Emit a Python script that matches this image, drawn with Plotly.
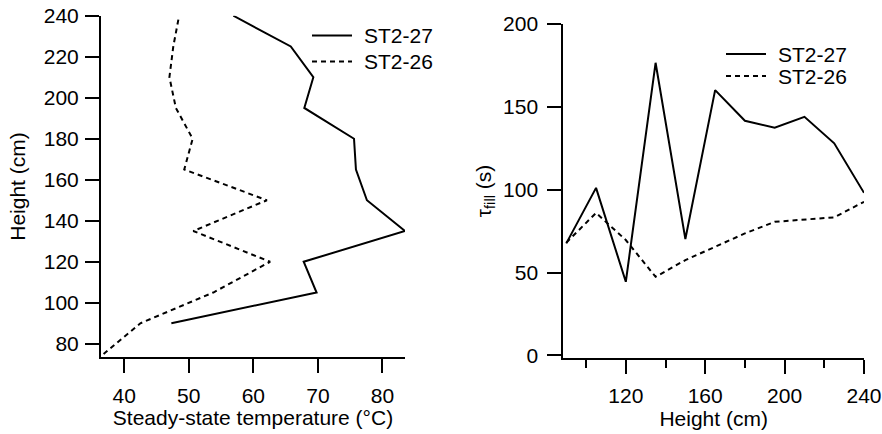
import plotly.graph_objects as go

# Steady-state temperature profile (height in cm, temperature in °C)
height_27 = [90, 105, 120, 135, 150, 165, 180, 195, 210, 225, 240]
temp_27 = [47.3, 69.8, 67.8, 83.5, 77.6, 75.9, 75.6, 67.9, 69.3, 65.8, 56.9]
height_26 = [75, 90, 105, 120, 135, 150, 165, 180, 195, 210, 225, 240]
temp_26 = [36.8, 42.5, 53.8, 62.6, 50.7, 62.1, 49.3, 50.6, 48.0, 47.0, 47.6, 48.5]

# Fill time constant vs height
tau_height = [90, 105, 120, 135, 150, 165, 180, 195, 210, 225, 240]
tau_27 = [67.6, 101.1, 44.4, 176.6, 70.2, 160.1, 141.6, 137.4, 144.0, 128.0, 98.1]
tau_26 = [68.0, 86.0, 69.6, 47.4, 57.5, 65.5, 73.6, 80.6, 82.0, 83.3, 92.7]

series_names = ["ST2-27", "ST2-26"]

W, H = 882, 434
FONT = "Liberation Sans, Arial, sans-serif"
FS = 21
solid = dict(color="black", width=2)
dashed = dict(color="black", width=2, dash="5px,4px")
styles = [solid, dashed]

fig = go.Figure()
fig.add_trace(go.Scatter(x=temp_27, y=height_27, mode="lines", line=solid,
                         name=series_names[0], xaxis="x", yaxis="y"))
fig.add_trace(go.Scatter(x=temp_26, y=height_26, mode="lines", line=dashed,
                         name=series_names[1], xaxis="x", yaxis="y"))
fig.add_trace(go.Scatter(x=tau_height, y=tau_27, mode="lines", line=solid,
                         name=series_names[0], xaxis="x2", yaxis="y2"))
fig.add_trace(go.Scatter(x=tau_height, y=tau_26, mode="lines", line=dashed,
                         name=series_names[1], xaxis="x2", yaxis="y2"))

axis_common = dict(
    showgrid=False, zeroline=False, showline=True, linecolor="black", linewidth=2,
    ticks="outside", ticklen=14, tickwidth=2, tickcolor="black",
    tickfont=dict(family=FONT, size=FS, color="black"),
    title_font=dict(family=FONT, size=FS, color="black"),
)

# Hand-placed legend boxes: (line x0, line x1, text x, [row y...]) in pixels
legend_specs = [
    (312, 352, 362, [35.5, 61.5]),
    (726, 766, 776, [54, 76]),
]
shapes, annotations = [], []
for x0, x1, tx, rows in legend_specs:
    for name, style, ry in zip(series_names, styles, rows):
        shapes.append(dict(type="line", xref="paper", yref="paper",
                           x0=x0 / W, x1=x1 / W, y0=1 - ry / H, y1=1 - ry / H,
                           line=style))
        annotations.append(dict(text=name, xref="paper", yref="paper",
                                x=tx / W, y=1 - ry / H, xanchor="left", yanchor="middle",
                                showarrow=False, font=dict(family=FONT, size=FS, color="black")))

fig.update_layout(
    width=W, height=H,
    margin=dict(l=0, r=0, t=0, b=0, autoexpand=False),
    paper_bgcolor="white", plot_bgcolor="white",
    font=dict(family=FONT, size=FS, color="black"),
    showlegend=False,
    xaxis=dict(axis_common, domain=[101 / W, 405 / W], range=[36.4, 83.5],
               tickvals=[40, 50, 60, 70, 80], ticklabelstandoff=4,
               title=dict(text="Steady-state temperature (°C)", standoff=3),
               anchor="y"),
    yaxis=dict(axis_common, domain=[1 - 357.3 / H, 1 - 15.7 / H], range=[73.4, 240],
               tickvals=[80, 100, 120, 140, 160, 180, 200, 220, 240], ticklabelstandoff=2,
               title=dict(text="Height (cm)", standoff=12),
               anchor="x"),
    xaxis2=dict(axis_common, domain=[563.3 / W, 864 / W], range=[88.5, 240],
                tickvals=[120, 160, 200, 240], ticklabelstandoff=4,
                minor=dict(tickvals=[100, 140, 180, 220], ticklen=8, tickwidth=2,
                           tickcolor="black", ticks="outside"),
                title=dict(text="Height (cm)", standoff=1),
                anchor="y2"),
    yaxis2=dict(axis_common, domain=[1 - 358 / H, 1 - 24 / H], range=[-1.6, 200],
                tickvals=[0, 50, 100, 150, 200], ticklabelstandoff=5,
                title=dict(text="τ<sub>fill</sub> (s)", standoff=6),
                anchor="x2"),
    shapes=shapes,
    annotations=annotations,
)

fig.write_html("out.html")
